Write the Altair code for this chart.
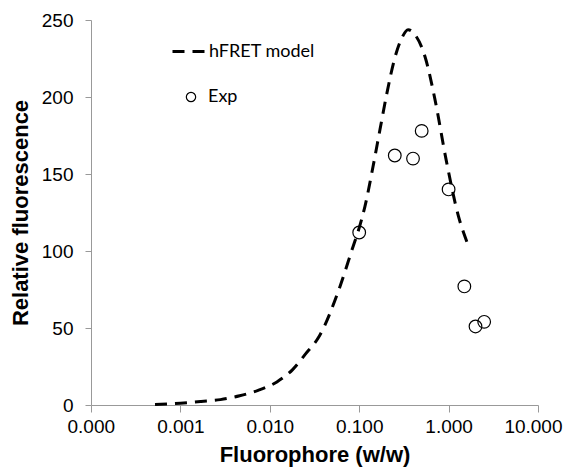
import altair as alt
import pandas as pd

# hFRET model curve
model_x = [0.00052, 0.001, 0.0017, 0.0028, 0.0046, 0.0074, 0.012, 0.018, 0.025,
           0.036, 0.061, 0.0853, 0.097, 0.116, 0.143, 0.171, 0.205, 0.252, 0.301,
           0.352, 0.42, 0.546, 0.706, 0.94, 1.29, 1.6]
model_y = [0.3, 1.2, 2.3, 3.5, 6, 9.5, 15, 23, 33,
           45, 77, 102.8, 112.5, 129, 155, 179, 203, 226, 238.5,
           243.7, 240.5, 226, 198, 159, 122.5, 106]

# Experimental points
exp_x = [0.1, 0.25, 0.4, 0.5, 1.0, 1.5, 2.0, 2.5]
exp_y = [112, 162, 160, 178, 140, 77, 51, 54]

x_ticks = [0.0001, 0.001, 0.01, 0.1, 1, 10]
y_ticks = [0, 50, 100, 150, 200, 250]

model_df = pd.DataFrame({"x": model_x, "y": model_y, "model": "hFRET model"})
exp_df = pd.DataFrame({"x": exp_x, "y": exp_y, "exp": "Exp"})

x_enc = alt.X("x:Q",
              scale=alt.Scale(type="log", domain=[0.0001, 10], nice=False),
              axis=alt.Axis(values=x_ticks, format=".3f", title="Fluorophore (w/w)",
                            labelFlush=True, labelFlushOffset=24, labelOverlap=False))
y_enc = alt.Y("y:Q",
              scale=alt.Scale(domain=[0, 250], nice=False),
              axis=alt.Axis(values=y_ticks, title="Relative fluorescence",
                            labelFlush=False, labelOverlap=False))

line = alt.Chart(model_df).mark_line(color="black", strokeWidth=3, interpolate="monotone").encode(
    x=x_enc, y=y_enc,
    strokeDash=alt.StrokeDash("model:N",
                              scale=alt.Scale(domain=["hFRET model"], range=[[12, 8]]),
                              legend=alt.Legend(title=None, orient="none", legendX=80, legendY=14,
                                                symbolSize=1024, symbolStrokeWidth=3,
                                                symbolStrokeColor="black", labelOffset=3,
                                                labelFont="Lato", labelFontSize=18,
                                                labelColor="black")),
)

points = alt.Chart(exp_df).mark_point(shape="circle", filled=False, color="black",
                                      strokeWidth=1.2, size=160, opacity=1).encode(
    x=x_enc, y=y_enc,
    shape=alt.Shape("exp:N",
                    scale=alt.Scale(domain=["Exp"], range=["circle"]),
                    legend=alt.Legend(title=None, orient="none", legendX=91, legendY=68,
                                      symbolSize=87, symbolStrokeWidth=1.2,
                                      symbolStrokeColor="black", symbolFillColor="transparent",
                                      labelOffset=8, labelFont="Lato", labelFontSize=18,
                                      labelColor="black")),
)

chart = alt.layer(line, points).properties(
    width=447, height=385,
    padding={"left": 83, "top": 12, "right": 25, "bottom": 66},
    autosize=alt.AutoSizeParams(type="none"),
).configure_view(stroke=None).configure_axis(
    grid=False,
    domainColor="#999999",
    tickColor="#999999",
    tickSize=6,
    labelFont="Liberation Sans",
    labelFontSize=19,
    labelColor="black",
    titleFont="Liberation Sans",
    titleFontSize=22,
    titleFontWeight="bold",
    titleColor="black",
).configure_axisX(
    tickSize=7, labelPadding=5, titlePadding=8,
).configure_axisY(
    labelPadding=12, titlePadding=9,
)

chart.save("out.html", embed_options={"renderer": "svg", "actions": False})
